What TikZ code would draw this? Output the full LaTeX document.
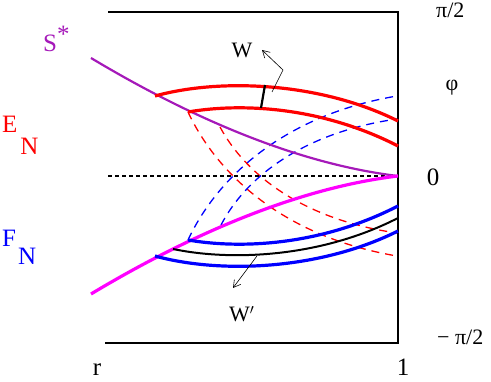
\documentclass[tikz,border=0pt]{standalone}
\usepackage{fontspec}
\setmainfont{Liberation Serif}
\usetikzlibrary{arrows.meta}
\definecolor{violeta}{RGB}{165,25,185}
\definecolor{rosa}{RGB}{255,0,255}

\begin{document}
\begin{tikzpicture}[x=1pt, y=-1pt,
  marco/.style={line width=2.4pt},
  curva/.style={line width=3.2pt},
  rayo/.style={line width=1.3pt, dash pattern=on 8pt off 6pt},
  eje/.style={line width=1.2pt, dash pattern=on 4pt off 3pt},
  flecha/.style={line width=0.6pt, -{Straight Barb[length=7pt, width=8pt]}},
  etiq/.style={inner sep=0pt, font=\fontsize{25}{25}\selectfont},
  chica/.style={inner sep=0pt, font=\fontsize{22}{22}\selectfont}]
\useasboundingbox (0,0) rectangle (491,382);
% Caracteristicas punteadas
\draw[rayo, red] (188,112) .. controls (220,180) and (290,238) .. (397,256);
\draw[rayo, red] (220,127) .. controls (247,177) and (306,220) .. (397,233);
\draw[rayo, blue] (188,240) .. controls (220,172) and (290,114) .. (397,96);
\draw[rayo, blue] (221,225) .. controls (247,175) and (306,132) .. (397,119);
\draw[eje] (108,176) -- (398,176);
% Marco
\draw[marco] (108,12) -- (398,12) -- (398,343) -- (105,343);
% Curvas S* y su reflejo
\draw[line width=2.2pt, violeta] (91,58) .. controls (191,118) and (298,164) .. (398,176);
\draw[curva, rosa] (91,294) .. controls (191,234) and (298,188) .. (398,176);
% Frentes E_N
\draw[curva, red] (155,96) .. controls (220,78) and (320,82) .. (398,121);
\draw[curva, red] (188,112) .. controls (240,103) and (320,106) .. (398,146);
% Frentes F_N
\draw[curva, blue] (188,240) .. controls (240,249) and (320,246) .. (398,206);
\draw[curva, blue] (155,256) .. controls (220,274) and (320,270) .. (398,231);
\draw[line width=2pt] (173,249) .. controls (230,261) and (320,258) .. (398,218);
% Segmento W y flechas
\coordinate (wa) at (261,108);
\coordinate (wb) at (265,85);
\draw[line width=2.2pt] (wa) -- (wb);
\coordinate (w0) at (272,92);
\coordinate (w1) at (283,70);
\coordinate (w2) at (262,50);
\draw[flecha] (w0) -- (w1) -- (w2);
\coordinate (v0) at (257,256);
\coordinate (v1) at (233,288);
\draw[flecha] (v0) -- (v1);
% Rotulos
\node[chica] (W) at (242,50) {W};
\node[chica, anchor=base west] (Wp) at (229,322) {W$^{\prime}$};
\node[etiq, anchor=base west, violeta] (S) at (43,52) {S\raisebox{9pt}{*}};
\node[etiq, anchor=base west, red] (E) at (2,133) {E\hspace{3pt}\raisebox{-22pt}{N}};
\node[etiq, anchor=base west, blue] (F) at (2,247) {F\hspace{2pt}\raisebox{-18pt}{N}};
\node[chica, anchor=base west] (pi) at (436,18) {π/2};
\node[chica] (phi) at (452,88) {φ};
\node[etiq] (cero) at (433,177) {0};
\node[chica, anchor=base west] (mpi) at (437,345) {− π/2};
\node[etiq] (r) at (97,370) {r};
\node[etiq] (uno) at (403,367) {1};
\end{tikzpicture}
\end{document}
